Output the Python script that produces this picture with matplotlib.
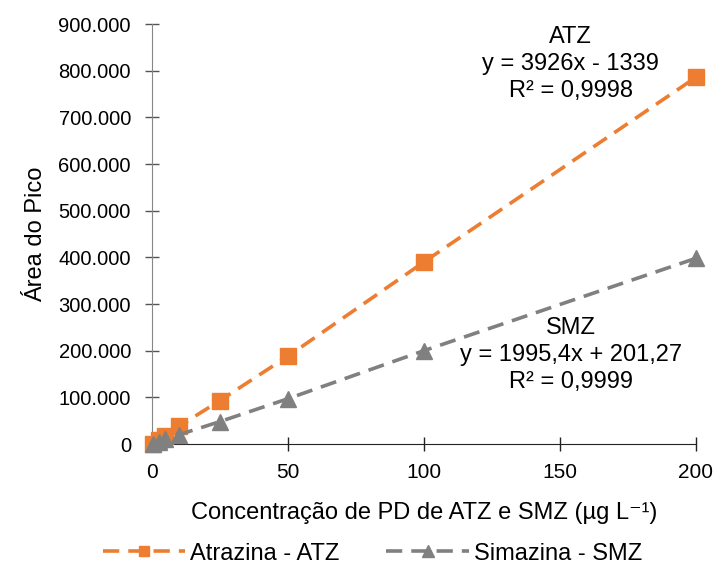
import matplotlib
matplotlib.use('Agg')
import matplotlib.pyplot as plt
from matplotlib.ticker import FuncFormatter

plt.rcParams['font.family'] = ['Liberation Sans', 'DejaVu Sans']

# data
conc = [0.5, 2.5, 5, 10, 25, 50, 100, 200]
atz = [1000, 8000, 18000, 38000, 93000, 188000, 390000, 786000]
smz = [1000, 5000, 10000, 20000, 48000, 97000, 200000, 398000]

orange = '#ED7D31'
gray = '#808080'

fig = plt.figure(figsize=(7.16, 5.66), dpi=100)
ax = fig.add_axes([0.212, 0.2155, 0.76, 0.742])

ax.plot(conc, atz, color=orange, ls=(0, (4.5, 2.5)), lw=2.6, marker='s', ms=11,
        clip_on=False, zorder=3, label='Atrazina - ATZ')
ax.plot(conc, smz, color=gray, ls=(0, (4.5, 2.5)), lw=2.6, marker='^', ms=12,
        clip_on=False, zorder=3, label='Simazina - SMZ')

ax.set_xlim(0, 200)
ax.set_ylim(0, 900000)
ax.set_xticks([0, 50, 100, 150, 200])
ax.set_yticks(range(0, 900001, 100000))
ax.yaxis.set_major_formatter(FuncFormatter(lambda v, p: '0' if v == 0 else f'{int(v):,}'.replace(',', '.')))

for s in ['top', 'right']:
    ax.spines[s].set_visible(False)
ax.spines['left'].set_color('#868686')
ax.spines['bottom'].set_color('#222222')
ax.tick_params(axis='y', labelsize=14.5, color='#555555', length=10, width=1, direction='inout', pad=10)
ax.tick_params(axis='x', labelsize=15, color='#222222', length=10, width=1, direction='inout', pad=9)

ax.set_xlabel('Concentração de PD de ATZ e SMZ (µg L⁻¹)', fontsize=17, labelpad=14)
ax.set_ylabel('Área do Pico', fontsize=17, labelpad=8)

ax.text(154, 814000, 'ATZ\ny = 3926x - 1339\nR² = 0,9998', ha='center', va='center',
        fontsize=17, linespacing=1.3)
ax.text(154, 191000, 'SMZ\ny = 1995,4x + 201,27\nR² = 0,9999', ha='center', va='center',
        fontsize=17, linespacing=1.3)

fig.legend(loc='lower center', bbox_to_anchor=(0.52, -0.035), ncol=2, frameon=False,
           fontsize=17, handlelength=3.5, handletextpad=0.2, columnspacing=2.0, markerscale=0.7)

fig.savefig('out.png', dpi=100)
